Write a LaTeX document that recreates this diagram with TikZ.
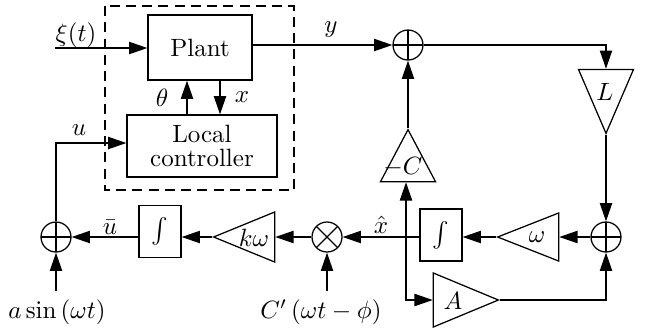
\documentclass[tikz,border=0pt]{standalone}
\usetikzlibrary{shapes.geometric,arrows.meta}
\begin{document}
\begin{tikzpicture}[x=0.4pt,y=-0.4pt,line width=0.5pt,
  arr/.style={-{Triangle[length=7.3pt,width=4.9pt]}},
  blk/.style={draw,inner sep=0pt},
  gain/.style={isosceles triangle,isosceles triangle stretches,draw,inner sep=0pt},
  sumnode/.style={circle,draw,minimum size=12pt,inner sep=0pt,
    path picture={\draw (path picture bounding box.north) -- (path picture bounding box.south)
      (path picture bounding box.west) -- (path picture bounding box.east);}},
  mulnode/.style={circle,draw,minimum size=12pt,inner sep=0pt,
    path picture={\draw (path picture bounding box.north west) -- (path picture bounding box.south east)
      (path picture bounding box.north east) -- (path picture bounding box.south west);}},
  dbox/.style={draw,dash pattern=on 4pt off 2.5pt}]
\useasboundingbox (0,0) rectangle (647,329);
% dashed enclosure
\draw[dbox] (105,6) rectangle (294,190);
% blocks
\node[blk,minimum width=41.6pt,minimum height=26pt] (plant) at (200,47.5) {Plant};
\node[blk,minimum width=60pt,minimum height=24.8pt,align=center] (ctrl) at (202,146) {Local\\[-2.5pt]controller};
\node[blk,minimum width=16.8pt,minimum height=20.8pt] (int1) at (160,231.5) {$\int$};
\node[blk,minimum width=16.8pt,minimum height=20.8pt] (int2) at (441,235) {$\int$};
% summers
\node[sumnode] (s1) at (408,45) {};
\node[sumnode] (s2) at (606,237) {};
\node[sumnode] (s3) at (56,237) {};
\node[mulnode] (mul) at (327,237) {};
% gains (minimum width = base length, minimum height = apex-to-base)
\node[gain,shape border rotate=180,minimum width=20pt,minimum height=24.4pt,anchor=apex] (kw) at (212,237) {};
\node[gain,shape border rotate=180,minimum width=19.2pt,minimum height=24.4pt,anchor=apex] (om) at (496,237) {};
\node[gain,shape border rotate=0,minimum width=21.6pt,minimum height=26pt,anchor=apex] (A) at (500,300) {};
\node[gain,shape border rotate=90,minimum width=22pt,minimum height=20.8pt,anchor=apex] (mC) at (408,128) {};
\node[gain,shape border rotate=270,minimum width=22pt,minimum height=25.6pt,anchor=apex] (L) at (606,135) {};
% labels
\node (lkw) at (254,238) {$k\omega$};
\node (lom) at (537,237) {$\omega$};
\node (lA) at (453,301) {$A$};
\node (lC) at (403,167) {$-C$};
\node (lL) at (605,92) {$L$};
\node (lxi) at (76,35) {$\xi(t)$};
\node (ly) at (331,30) {$y$};
\node (lu) at (79,130) {$u$};
\node (lth) at (162,98) {$\theta$};
\node (lx) at (242,97) {$x$};
\node (lxh) at (381,225) {$\hat{x}$};
\node (lub) at (110,227) {$\bar{u}$};
\node (lasin) at (57,312) {$a\sin{(\omega t)}$};
\node (lCp) at (321,312) {$C'\left(\omega t-\phi\right)$};
% helper coordinates
\coordinate (xi0) at (55,48);
\coordinate (br) at (406,237);
\coordinate (uy) at (56,143);
\coordinate (th) at (187,0);
\coordinate (xc) at (220,0);
% connectors
\draw[arr] (xi0) -- (plant.west |- xi0);
\draw[arr] (plant.east |- s1) -- (s1.west);
\draw[arr] (s1.east) -| (L.lower side);
\draw[arr] (L.apex) -- (s2.north);
\draw[arr] (A.apex) -| (s2.south);
\draw[arr] (s2.west) -- (om.lower side);
\draw[arr] (om.apex) -- (int2.east |- om.apex);
\draw[arr] (int2.west |- mul) -- (mul.east);
\draw[arr] (br) -- (br |- mC.lower side);
\draw[arr] (br) |- (A.lower side);
\draw[arr] (mC.apex) -- (s1.south);
\draw[arr] (mul.west) -- (kw.lower side);
\draw[arr] (kw.apex) -- (int1.east |- kw.apex);
\draw[arr] (int1.west |- s3) -- (s3.east);
\draw[arr] (lasin.north -| s3) -- (s3.south);
\draw[arr] (lCp.north -| mul) -- (mul.south);
\draw[arr] (s3.north) |- (ctrl.west |- uy);
\draw[arr] (ctrl.north -| th) -- (plant.south -| th);
\draw[arr] (plant.south -| xc) -- (ctrl.north -| xc);
\end{tikzpicture}
\end{document}
